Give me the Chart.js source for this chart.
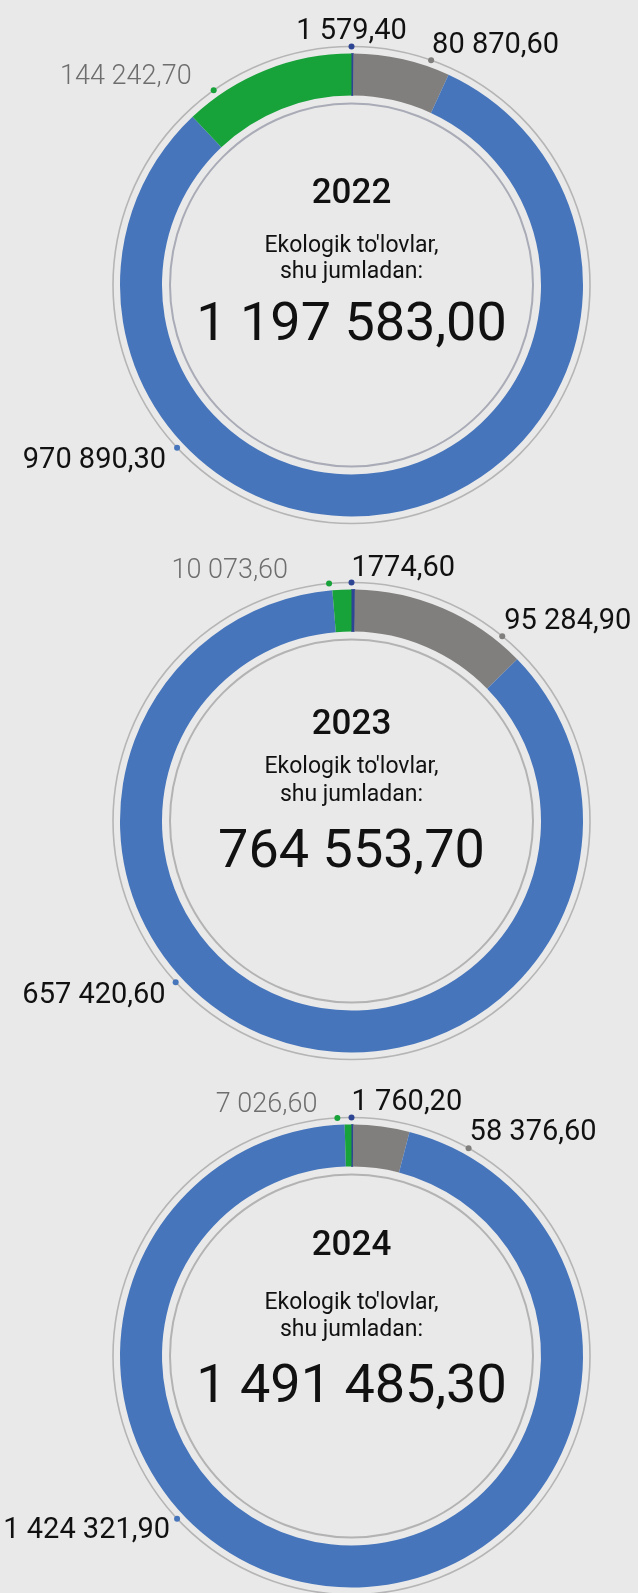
<!DOCTYPE html>
<html><head><meta charset="utf-8">
<script src="https://cdn.jsdelivr.net/npm/chart.js@4.4.1/dist/chart.umd.min.js"></script>
<style>
html,body{margin:0;padding:0;background:#e9e9e9;}
#wrap{position:relative;width:638px;height:1593px;overflow:hidden;background:#e9e9e9;}
canvas{position:absolute;left:0;}
</style></head><body><div id="wrap">
<canvas id="c0" width="638" height="560" style="top:5px"></canvas>
<canvas id="c1" width="638" height="560" style="top:540.5px"></canvas>
<canvas id="c2" width="638" height="560" style="top:1076px"></canvas>
</div>
<script>
// ---- data ----
const categories = ['1-toifa', '2-toifa', '3-toifa', '4-toifa'];
const years = ['2022', '2023', '2024'];
const values2022 = [1579.4, 80870.6, 970890.3, 144242.7];
const values2023 = [1774.6, 95284.9, 657420.6, 10073.6];
const values2024 = [1760.2, 58376.6, 1424321.9, 7026.6];
const valueLabels2022 = ['1 579,40', '80 870,60', '970 890,30', '144 242,70'];
const valueLabels2023 = ['1774,60', '95 284,90', '657 420,60', '10 073,60'];
const valueLabels2024 = ['1 760,20', '58 376,60', '1 424 321,90', '7 026,60'];
const totalLabels = ['1 197 583,00', '764 553,70', '1 491 485,30'];
const subtitleLines = ["Ekologik to'lovlar,", 'shu jumladan:'];

// ---- styling / placement (not data) ----
const sliceColors = ['#2e4593', '#807f7d', '#4675bb', '#17a23a'];
const labelAngles = [
  [0, 19.5, -133, -35.3],
  [0, 39.2, -132.5, -5.4],
  [0, 29.4, -133, -3.4]
];
// [dx, dy, align]
const labelStyles = [
  [[0,-8,'center'],[1,-7,'left'],[-11,20,'right'],[-22,-6,'right']],
  [[0,-7,'left'],[2,-7,'left'],[-10,21,'right'],[-41,-6,'right']],
  [[0,-8,'left'],[1,-8,'left'],[-7,19,'right'],[-20,-6,'right']]
];
// baselines relative to centre: year, line1, line2, total
const centreOffsets = [
  [-82, -33, -7, 55],
  [-87, -48, -20, 46],
  [-101, -47, -20, 46]
];
const innerRingColors = ['#a9abb6', '#b3b3b3', '#b3b3b3'];

const ringPlugin = {
  id: 'ring',
  beforeDatasetsDraw(chart, args, opts) {
    const arc = chart.getDatasetMeta(0).data[0];
    const p = arc.getProps(['x', 'y', 'innerRadius', 'outerRadius'], true);
    const ctx = chart.ctx;
    ctx.save();
    ctx.lineWidth = 1.6; ctx.strokeStyle = '#b5b5b5';
    ctx.beginPath(); ctx.arc(p.x, p.y, p.outerRadius + 7, 0, Math.PI * 2); ctx.stroke();
    ctx.lineWidth = 2; ctx.strokeStyle = opts.innerColor;
    ctx.beginPath(); ctx.arc(p.x, p.y, p.innerRadius - 8, 0, Math.PI * 2); ctx.stroke();
    ctx.restore();
  },
  afterDatasetsDraw(chart, args, opts) {
    const arc = chart.getDatasetMeta(0).data[0];
    const p = arc.getProps(['x', 'y', 'innerRadius', 'outerRadius'], true);
    const ctx = chart.ctx;
    const rr = p.outerRadius + 7;
    ctx.save();
    opts.texts.forEach((t, i) => {
      const a = opts.angles[i] * Math.PI / 180;
      const dx = p.x + rr * Math.sin(a), dy = p.y - rr * Math.cos(a);
      ctx.fillStyle = sliceColors[i];
      ctx.beginPath(); ctx.arc(dx, dy, 3, 0, Math.PI * 2); ctx.fill();
      const st = opts.styles[i];
      const light = i === 3;
      ctx.font = light ? '300 27px Roboto' : '400 29px Roboto';
      ctx.fillStyle = light ? '#6e6e6e' : '#111111';
      ctx.textAlign = st[2];
      ctx.textBaseline = 'alphabetic';
      ctx.fillText(t, dx + st[0], dy + st[1]);
    });
    const o = opts.centre;
    ctx.textAlign = 'center';
    ctx.fillStyle = '#111111';
    ctx.font = '500 35px Roboto';
    ctx.fillText(opts.year, p.x, p.y + o[0]);
    ctx.font = '400 23px Roboto';
    ctx.fillText(subtitleLines[0], p.x, p.y + o[1]);
    ctx.fillText(subtitleLines[1], p.x, p.y + o[2]);
    ctx.font = '400 54px Roboto';
    ctx.fillText(opts.total, p.x, p.y + o[3]);
    ctx.restore();
  }
};

const allValues = [values2022, values2023, values2024];
const allLabels = [valueLabels2022, valueLabels2023, valueLabels2024];

allValues.forEach((vals, k) => {
  new Chart(document.getElementById('c' + k), {
    type: 'doughnut',
    data: {
      labels: categories,
      datasets: [{
        data: vals,
        backgroundColor: sliceColors,
        borderColor: sliceColors,
        borderWidth: [1, 0, 0, 0]
      }]
    },
    options: {
      responsive: false,
      animation: false,
      radius: 231.5,
      cutout: '81.86%',
      rotation: 0,
      layout: { padding: { left: 65, right: 0, top: 0, bottom: 0 } },
      plugins: {
        legend: { display: false },
        tooltip: { enabled: false },
        ring: {
          innerColor: innerRingColors[k],
          angles: labelAngles[k],
          styles: labelStyles[k],
          texts: allLabels[k],
          centre: centreOffsets[k],
          year: years[k],
          total: totalLabels[k]
        }
      }
    },
    plugins: [ringPlugin]
  });
});
</script>
</body></html>
